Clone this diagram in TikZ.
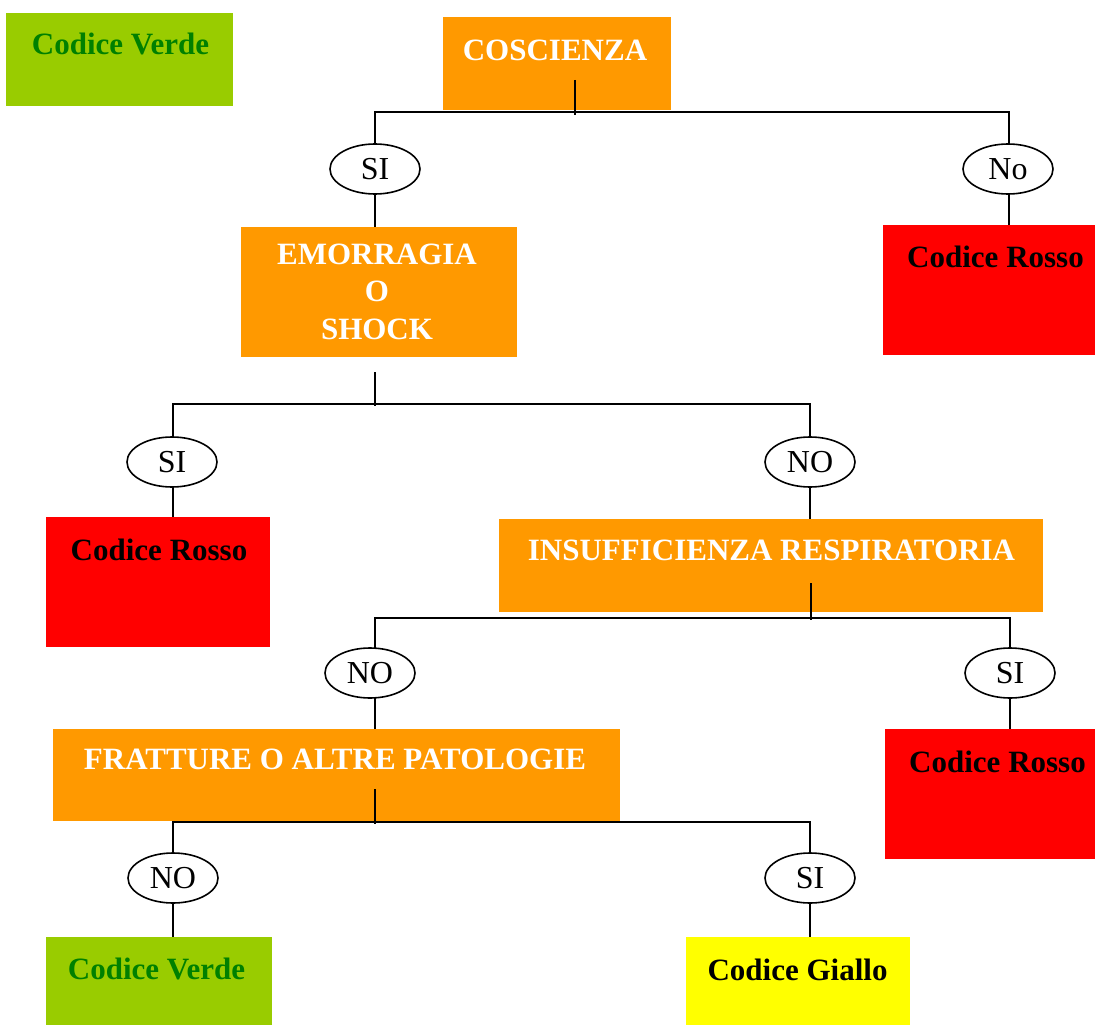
\documentclass[tikz,border=0pt]{standalone}
\usepackage{fontspec}
\setmainfont{Liberation Serif}
\usetikzlibrary{shapes.geometric}
\definecolor{verde}{HTML}{99CC00}
\definecolor{verdetxt}{HTML}{008000}
\definecolor{arancio}{HTML}{FF9900}
\definecolor{rosso}{HTML}{FF0000}
\definecolor{giallo}{HTML}{FFFF00}
\begin{document}
\begin{tikzpicture}[x=1pt,y=-1pt,
  box/.style={rectangle, draw=none, inner sep=0pt, anchor=north west},
  boxtxt/.style={anchor=base, inner sep=0pt, font=\fontsize{31}{37.5}\selectfont\bfseries, align=center},
  answer/.style={ellipse, draw, line width=1.6pt, fill=white, inner sep=0pt,
    minimum width=90pt, minimum height=50pt, font=\fontsize{32}{36}\selectfont},
  link/.style={line width=1.4pt}]
\useasboundingbox (0,0) rectangle (1095,1025);

% coloured boxes
\node[box, fill=verde,   minimum width=227pt, minimum height=93pt]  (verdeA)  at (6,13) {};
\node[box, fill=arancio, minimum width=228pt, minimum height=93pt]  (cosc)    at (443,17) {};
\node[box, fill=arancio, minimum width=276pt, minimum height=130pt] (emo)     at (241,227) {};
\node[box, fill=rosso,   minimum width=212pt, minimum height=130pt] (rossoA)  at (883,225) {};
\node[box, fill=rosso,   minimum width=224pt, minimum height=130pt] (rossoB)  at (46,517) {};
\node[box, fill=arancio, minimum width=544pt, minimum height=93pt]  (insuf)   at (499,519) {};
\node[box, fill=arancio, minimum width=567pt, minimum height=92pt]  (fratt)   at (53,729) {};
\node[box, fill=rosso,   minimum width=210pt, minimum height=130pt] (rossoC)  at (885,729) {};
\node[box, fill=verde,   minimum width=226pt, minimum height=88pt]  (verdeB)  at (46,937) {};
\node[box, fill=giallo,  minimum width=224pt, minimum height=88pt]  (gialloA) at (686,937) {};

% box labels (a multi-line label sits on the baseline of its last line)
\node[boxtxt, text=verdetxt] (tVerdeA) at (120.5,55) {Codice Verde};
\node[boxtxt, text=white]    (tCosc)   at (555,60) {COSCIENZA};
\node[boxtxt, text=white]    (tEmo)    at (377,339) {EMORRAGIA\\O\\SHOCK};
\node[boxtxt]                (tRossoA) at (995.5,267) {Codice Rosso};
\node[boxtxt]                (tRossoB) at (159,560) {Codice Rosso};
\node[boxtxt, text=white]    (tInsuf)  at (771.5,560) {INSUFFICIENZA RESPIRATORIA};
\node[boxtxt, text=white]    (tFratt)  at (335,769) {FRATTURE O ALTRE PATOLOGIE};
\node[boxtxt]                (tRossoC) at (997.5,772) {Codice Rosso};
\node[boxtxt, text=verdetxt] (tVerdeB) at (156.5,979) {Codice Verde};
\node[boxtxt]                (tGiallo) at (797.5,980) {Codice Giallo};

% branch points
\coordinate (s1a) at (575,80);   \coordinate (b1) at (575,112); \coordinate (s1b) at (575,115);
\coordinate (s2a) at (375,372);  \coordinate (b2) at (375,404); \coordinate (s2b) at (375,406);
\coordinate (s3a) at (811,583);  \coordinate (b3) at (811,618); \coordinate (s3b) at (811,620);
\coordinate (s4a) at (375,789);  \coordinate (b4) at (375,822); \coordinate (s4b) at (375,824);

% connectors (drawn before the answer ovals so the ovals sit on top)
\draw[link] (s1a) -- (s1b);
\draw[link] (375,170) |- (b1) -| (1009,170);
\draw[link] (375,170) -- (emo.north -| 375,0);
\draw[link] (1009,170) -- (rossoA.north -| 1009,0);

\draw[link] (s2a) -- (s2b);
\draw[link] (173,463) |- (b2) -| (810,463);
\draw[link] (173,463) -- (rossoB.north -| 173,0);
\draw[link] (810,463) -- (insuf.north -| 810,0);

\draw[link] (s3a) -- (s3b);
\draw[link] (375,673) |- (b3) -| (1010,673);
\draw[link] (375,673) -- (fratt.north -| 375,0);
\draw[link] (1010,673) -- (rossoC.north -| 1010,0);

\draw[link] (s4a) -- (s4b);
\draw[link] (173,878) |- (b4) -| (810,878);
\draw[link] (173,878) -- (verdeB.north -| 173,0);
\draw[link] (810,878) -- (gialloA.north -| 810,0);

% answer ovals
\node[answer] (siA) at (375,169) {SI};
\node[answer] (noA) at (1008,169) {No};
\node[answer] (siB) at (172,462) {SI};
\node[answer] (noB) at (810,462) {NO};
\node[answer] (noC) at (370,673) {NO};
\node[answer] (siC) at (1010,673) {SI};
\node[answer] (noD) at (173,878) {NO};
\node[answer] (siD) at (810,878) {SI};
\end{tikzpicture}
\end{document}
